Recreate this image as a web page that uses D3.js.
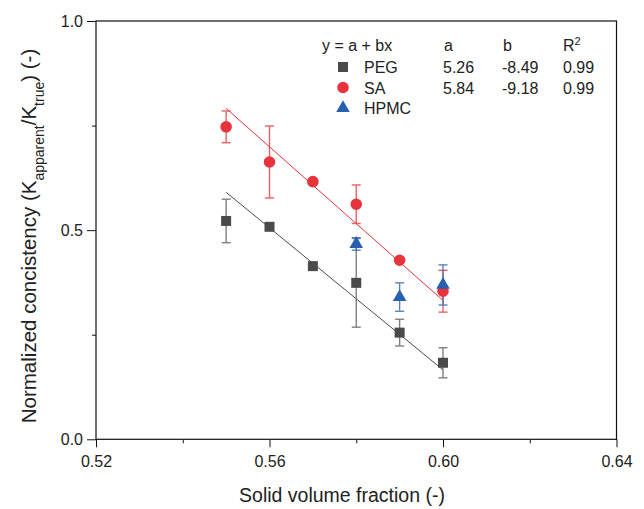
<!DOCTYPE html>
<html>
<head>
<meta charset="utf-8">
<script src="https://cdn.jsdelivr.net/npm/d3@7"></script>
<style>
  body { margin: 0; background: #fff; }
  svg text { font-family: "Liberation Sans", Arial, sans-serif; fill: #222; }
</style>
</head>
<body>
<svg id="chart" width="644" height="509"></svg>
<script>
// x positions (solid volume fraction)
const xVals = [0.55, 0.56, 0.57, 0.58, 0.59, 0.60];
const pegY = [0.522, 0.508, 0.414, 0.374, 0.255, 0.183];
const pegErr = [0.052, 0, 0, 0.106, 0.032, 0.036];
const saY = [0.747, 0.663, 0.616, 0.562, 0.428, 0.354];
const saErr = [0.038, 0.086, 0, 0.046, 0, 0.050];
const hpmcX = [0.58, 0.59, 0.60];
const hpmcY = [0.467, 0.340, 0.369];
const hpmcErr = [0.015, 0.034, 0.048];

// linear fits y = a + bx
const fitNames = ["PEG", "SA"];
const fitA = [5.26, 5.84];
const fitB = [-8.49, -9.18];
const fitR2 = [0.99, 0.99];

const xTicks = [0.52, 0.56, 0.60, 0.64];
const xMinor = [0.54, 0.58, 0.62];
const yTicks = [0.0, 0.5, 1.0];
const yMinor = [0.25, 0.75];

const COLORS = { PEG: "#4a4a4a", SA: "#e8323c", HPMC: "#2760ae" };
const ERR_COLORS = { PEG: "#6a6a6a", SA: "#e8444c", HPMC: "#3a6fb8" };

const svg = d3.select("#chart");
const margin = { left: 96, right: 644 - 616.5, top: 21, bottom: 509 - 439.3 };
const W = 644, H = 509;

const x = d3.scaleLinear().domain([0.52, 0.64]).range([margin.left, W - margin.right]);
const y = d3.scaleLinear().domain([0, 1]).range([H - margin.bottom, margin.top]);

// axes
svg.append("g")
  .attr("transform", "translate(0," + y(0) + ")")
  .call(d3.axisBottom(x).tickValues(xTicks).tickFormat(d3.format(".2f")).tickSize(8).tickSizeOuter(0).tickPadding(8.5));
svg.append("g")
  .attr("transform", "translate(0," + y(0) + ")")
  .call(d3.axisBottom(x).tickValues(xMinor).tickFormat("").tickSize(4).tickSizeOuter(0));
svg.append("g")
  .attr("transform", "translate(" + x(0.52) + ",0)")
  .call(d3.axisLeft(y).tickValues(yTicks).tickFormat(d3.format(".1f")).tickSize(9).tickSizeOuter(0).tickPadding(4));
svg.append("g")
  .attr("transform", "translate(" + x(0.52) + ",0)")
  .call(d3.axisLeft(y).tickValues(yMinor).tickFormat("").tickSize(4).tickSizeOuter(0));

svg.selectAll(".domain").remove();
svg.selectAll(".tick line").attr("stroke", "#111");
svg.selectAll(".tick text").style("font-size", "16px").attr("fill", "#222");

// frame
svg.append("rect")
  .attr("x", x(0.52)).attr("y", y(1))
  .attr("width", x(0.64) - x(0.52)).attr("height", y(0) - y(1))
  .attr("fill", "none").attr("stroke", "#111").attr("stroke-width", 1.2);

// axis titles
svg.append("text")
  .attr("x", 342)
  .attr("y", 502)
  .attr("text-anchor", "middle")
  .style("font-size", "19.5px")
  .text("Solid volume fraction (-)");

const yt = svg.append("text")
  .attr("transform", "translate(36,236) rotate(-90)")
  .attr("text-anchor", "middle")
  .style("font-size", "20.5px");
yt.append("tspan").text("Normalized concistency (K");
yt.append("tspan").attr("baseline-shift", "sub").style("font-size", "14px").text("apparent");
yt.append("tspan").text("/K");
yt.append("tspan").attr("baseline-shift", "sub").style("font-size", "14px").text("true");
yt.append("tspan").text(") (-)");

// fit lines
fitNames.forEach((name, i) => {
  const ends = [0.55, 0.60].map(v => [v, fitA[i] + fitB[i] * v]);
  svg.append("path")
    .attr("d", d3.line().x(d => x(d[0])).y(d => y(d[1]))(ends))
    .attr("stroke", COLORS[name])
    .attr("stroke-width", 1)
    .attr("fill", "none");
});

const series = [
  { name: "PEG", xs: xVals, ys: pegY, errs: pegErr, shape: d3.symbolSquare, size: 100 },
  { name: "SA", xs: xVals, ys: saY, errs: saErr, shape: d3.symbolCircle, size: 105 },
  { name: "HPMC", xs: hpmcX, ys: hpmcY, errs: hpmcErr, shape: d3.symbolTriangle, size: 80 }
];

// error bars
series.forEach(s => {
  const g = svg.append("g").attr("stroke", ERR_COLORS[s.name]).attr("stroke-width", 1.4).attr("opacity", 0.85);
  s.xs.forEach((xv, i) => {
    const e = s.errs[i];
    if (!e) return;
    const cx = x(xv), top = y(s.ys[i] + e), bot = y(s.ys[i] - e);
    g.append("line").attr("x1", cx).attr("x2", cx).attr("y1", top).attr("y2", bot);
    g.append("line").attr("x1", cx - 4.5).attr("x2", cx + 4.5).attr("y1", top).attr("y2", top);
    g.append("line").attr("x1", cx - 4.5).attr("x2", cx + 4.5).attr("y1", bot).attr("y2", bot);
  });
});

// markers
series.forEach(s => {
  svg.append("g").selectAll("path")
    .data(s.xs.map((xv, i) => [xv, s.ys[i]]))
    .join("path")
    .attr("transform", d => "translate(" + x(d[0]) + "," + y(d[1]) + ")")
    .attr("d", d3.symbol().type(s.shape).size(s.size))
    .attr("fill", COLORS[s.name]);
});

// legend / fit table
const lg = svg.append("g").style("font-size", "16px");
lg.append("text").attr("x", 322).attr("y", 51).text("y = a + bx");
lg.append("text").attr("x", 444).attr("y", 51).text("a");
lg.append("text").attr("x", 503).attr("y", 51).text("b");
const r2 = lg.append("text").attr("x", 563).attr("y", 51);
r2.append("tspan").text("R");
r2.append("tspan").attr("dy", -6).style("font-size", "11px").text("2");

series.forEach((s, i) => {
  const rowY = 73 + i * 20.5;
  lg.append("path")
    .attr("transform", "translate(343," + (rowY - 6) + ")")
    .attr("d", d3.symbol().type(s.shape).size(s.size))
    .attr("fill", COLORS[s.name]);
  lg.append("text").attr("x", 364).attr("y", rowY).text(s.name);
  const fi = fitNames.indexOf(s.name);
  if (fi >= 0) {
    lg.append("text").attr("x", 443).attr("y", rowY).text(fitA[fi].toFixed(2));
    lg.append("text").attr("x", 502).attr("y", rowY).text(fitB[fi].toFixed(2));
    lg.append("text").attr("x", 563).attr("y", rowY).text(fitR2[fi].toFixed(2));
  }
});
</script>
</body>
</html>
